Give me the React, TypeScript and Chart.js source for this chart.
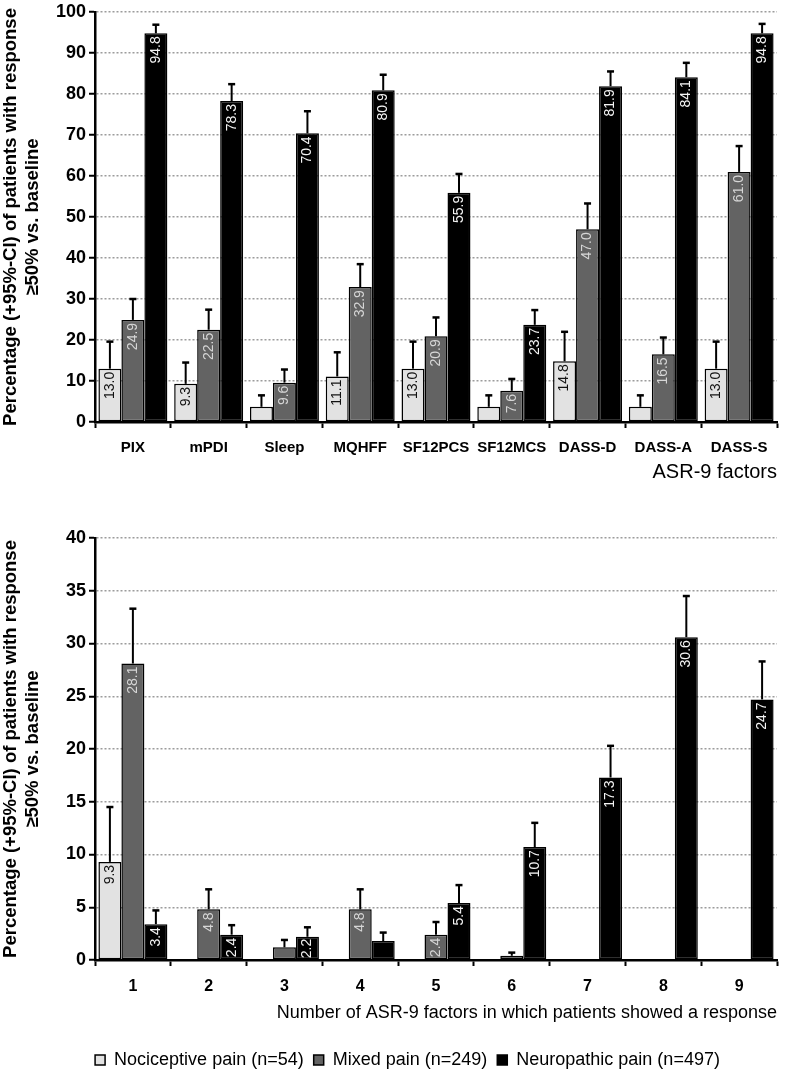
import React, { useEffect, useRef } from "react";
import { Chart, registerables } from "chart.js";

Chart.register(...registerables);

const FONT = "'Liberation Sans', Arial, Helvetica, sans-serif";

// ---------- Top panel: response per ASR-9 factor ----------
const factorLabels = ["PIX", "mPDI", "Sleep", "MQHFF", "SF12PCS", "SF12MCS", "DASS-D", "DASS-A", "DASS-S"];
const factorNociceptive = [13.0, 9.3, 3.7, 11.1, 13.0, 3.7, 14.8, 3.7, 13.0];
const factorNociceptiveCI = [19.6, 14.5, 6.5, 17.0, 19.6, 6.5, 22.0, 6.5, 19.6];
const factorMixed = [24.9, 22.5, 9.6, 32.9, 20.9, 7.6, 47.0, 16.5, 61.0];
const factorMixedCI = [30.0, 27.4, 12.8, 38.5, 25.5, 10.5, 53.3, 20.6, 67.3];
const factorNeuropathic = [94.8, 78.3, 70.4, 80.9, 55.9, 23.7, 81.9, 84.1, 94.8];
const factorNeuropathicCI = [96.9, 82.4, 75.8, 84.7, 60.5, 27.3, 85.5, 87.6, 97.1];

// ---------- Bottom panel: number of ASR-9 factors with response ----------
const countLabels = ["1", "2", "3", "4", "5", "6", "7", "8", "9"];
const countNociceptive = [9.3, 0, 0, 0, 0, 0, 0, 0, 0];
const countNociceptiveCI = [14.5, null, null, null, null, null, null, null, null];
const countMixed = [28.1, 4.8, 1.2, 4.8, 2.4, 0.4, 0, 0, 0];
const countMixedCI = [33.3, 6.7, 1.9, 6.7, 3.6, 0.7, null, null, null];
const countNeuropathic = [3.4, 2.4, 2.2, 1.8, 5.4, 10.7, 17.3, 30.6, 24.7];
const countNeuropathicCI = [4.7, 3.3, 3.1, 2.6, 7.1, 13.0, 20.3, 34.5, 28.3];

const seriesNames = ["Nociceptive pain (n=54)", "Mixed pain (n=249)", "Neuropathic pain (n=497)"];
const seriesFill = ["#e2e2e2", "#636363", "#000000"];
const seriesLabelColor = ["#111111", "#d6d6d6", "#f4f4f4"];

const yTitle = ["Percentage (+95%-CI) of patients with response", "\u226550% vs. baseline"];

const barExtras = {
  id: "barExtras",
  afterDatasetsDraw(chart: any) {
    const ctx = chart.ctx;
    const yScale = chart.scales.y;
    chart.data.datasets.forEach((ds: any, di: number) => {
      const meta = chart.getDatasetMeta(di);
      if (meta.hidden) return;
      meta.data.forEach((el: any, i: number) => {
        const v = ds.data[i];
        const ci = ds.ciUpper ? ds.ciUpper[i] : null;
        const { x, y, base, width } = el.getProps(["x", "y", "base", "width"], true);
        if (ci != null && v != null && v > 0) {
          const yc = yScale.getPixelForValue(ci);
          ctx.save();
          ctx.strokeStyle = "#000";
          ctx.lineWidth = 2;
          ctx.beginPath();
          ctx.moveTo(x, y);
          ctx.lineTo(x, yc);
          ctx.stroke();
          ctx.lineWidth = 2.5;
          ctx.beginPath();
          ctx.moveTo(x - 3.5, yc);
          ctx.lineTo(x + 3.5, yc);
          ctx.stroke();
          ctx.restore();
        }
        const h = base - y;
        if (v != null && h >= 20) {
          const label = v.toFixed(1);
          ctx.save();
          ctx.beginPath();
          ctx.rect(x - width / 2, y, width, h);
          ctx.clip();
          ctx.font = `14px ${FONT}`;
          ctx.fillStyle = ds.labelColor;
          const len = ctx.measureText(label).width;
          if (len + 5 <= h) {
            ctx.translate(x, y + 3);
            ctx.rotate(-Math.PI / 2);
            ctx.textAlign = "right";
          } else {
            ctx.translate(x, base - 1);
            ctx.rotate(-Math.PI / 2);
            ctx.textAlign = "left";
          }
          ctx.textBaseline = "middle";
          ctx.fillText(label, 0, 0);
          ctx.restore();
        }
      });
    });
  },
};

type PanelProps = {
  labels: string[];
  values: number[][];
  cis: (number | null)[][];
  yMax: number;
  yStep: number;
  xTitle: string;
  xTitleSize: number;
  xTickSize: number;
  width: number;
  height: number;
  padTop: number;
  padLeft: number;
  xScaleHeight: number;
  xTitlePadBottom: number;
  showLegend: boolean;
};

function Panel(p: PanelProps) {
  const ref = useRef<HTMLCanvasElement | null>(null);
  useEffect(() => {
    if (!ref.current) return;
    const datasets = p.values.map((vals, k) => ({
      label: seriesNames[k],
      data: vals,
      ciUpper: p.cis[k],
      labelColor: seriesLabelColor[k],
      backgroundColor: seriesFill[k],
      borderColor: "#000",
      borderWidth: 1.5,
      borderSkipped: false,
      barPercentage: 1,
      categoryPercentage: 0.91,
    }));
    const chart = new Chart(ref.current, {
      type: "bar",
      data: { labels: p.labels, datasets: datasets as any },
      plugins: [barExtras],
      options: {
        animation: false,
        responsive: false,
        events: [],
        layout: { padding: { top: p.padTop, left: p.padLeft, right: 10, bottom: 0 } },
        plugins: {
          tooltip: { enabled: false },
          legend: {
            display: p.showLegend,
            position: "bottom",
            align: "center",
            labels: {
              color: "#000",
              font: { family: FONT, size: 18 },
              boxWidth: 10,
              boxHeight: 10,
              padding: 10,
            },
          },
        },
        scales: {
          x: {
            grid: {
              display: true,
              drawOnChartArea: false,
              drawTicks: true,
              tickLength: 6,
              tickColor: "#000",
              tickWidth: 2,
              offset: true,
            },
            border: { display: true, color: "#000", width: 2.5 },
            ticks: {
              color: "#000",
              font: { family: FONT, size: p.xTickSize, weight: "bold" },
              padding: 11,
              autoSkip: false,
              maxRotation: 0,
            },
            title: {
              display: true,
              text: p.xTitle,
              align: "end",
              color: "#000",
              font: { family: FONT, size: p.xTitleSize, lineHeight: 1.2 },
              padding: { top: 0, bottom: p.xTitlePadBottom },
            },
            afterFit: (s: any) => {
              s.height = p.xScaleHeight;
            },
          },
          y: {
            min: 0,
            max: p.yMax,
            ticks: {
              stepSize: p.yStep,
              color: "#000",
              font: { family: FONT, size: 18, weight: "bold", lineHeight: 1 },
              padding: 3,
            },
            grid: {
              color: "#9c9c9c",
              lineWidth: 1.5,
              drawTicks: true,
              tickLength: 6,
              tickColor: "#000",
              tickWidth: 2,
              tickBorderDash: [],
            },
            border: { display: true, color: "#000", width: 2.5, dash: [2, 2] },
            title: {
              display: true,
              text: yTitle,
              color: "#000",
              font: { family: FONT, size: 18.5, weight: "bold", lineHeight: 1.2 },
              padding: { top: -p.padLeft, bottom: 0 },
            },
            afterFit: (s: any) => {
              s.width = 95 - p.padLeft;
            },
          },
        },
      } as any,
    });
    return () => chart.destroy();
  }, []);
  return (
    <canvas
      ref={ref}
      width={p.width}
      height={p.height}
      style={{ display: "block", width: p.width, height: p.height }}
    />
  );
}

export default function App() {
  return (
    <div
      style={{
        position: "absolute",
        left: 0,
        top: 0,
        width: 787,
        height: 1079,
        background: "#fff",
        overflow: "hidden",
      }}
    >
      <div style={{ position: "absolute", left: 0, top: 0 }}>
        <Panel
          labels={factorLabels}
          values={[factorNociceptive, factorMixed, factorNeuropathic]}
          cis={[factorNociceptiveCI, factorMixedCI, factorNeuropathicCI]}
          yMax={100}
          yStep={10}
          xTitle="ASR-9 factors"
          xTitleSize={20}
          xTickSize={15}
          width={787}
          height={490}
          padTop={9}
          padLeft={0}
          xScaleHeight={68}
          xTitlePadBottom={6}
          showLegend={false}
        />
      </div>
      <div style={{ position: "absolute", left: 0, top: 490 }}>
        <Panel
          labels={countLabels}
          values={[countNociceptive, countMixed, countNeuropathic]}
          cis={[countNociceptiveCI, countMixedCI, countNeuropathicCI]}
          yMax={40}
          yStep={5}
          xTitle="Number of ASR-9 factors in which patients showed a response"
          xTitleSize={18}
          xTickSize={16}
          width={787}
          height={589}
          padTop={48}
          padLeft={38}
          xScaleHeight={81}
          xTitlePadBottom={17}
          showLegend={true}
        />
      </div>
    </div>
  );
}
